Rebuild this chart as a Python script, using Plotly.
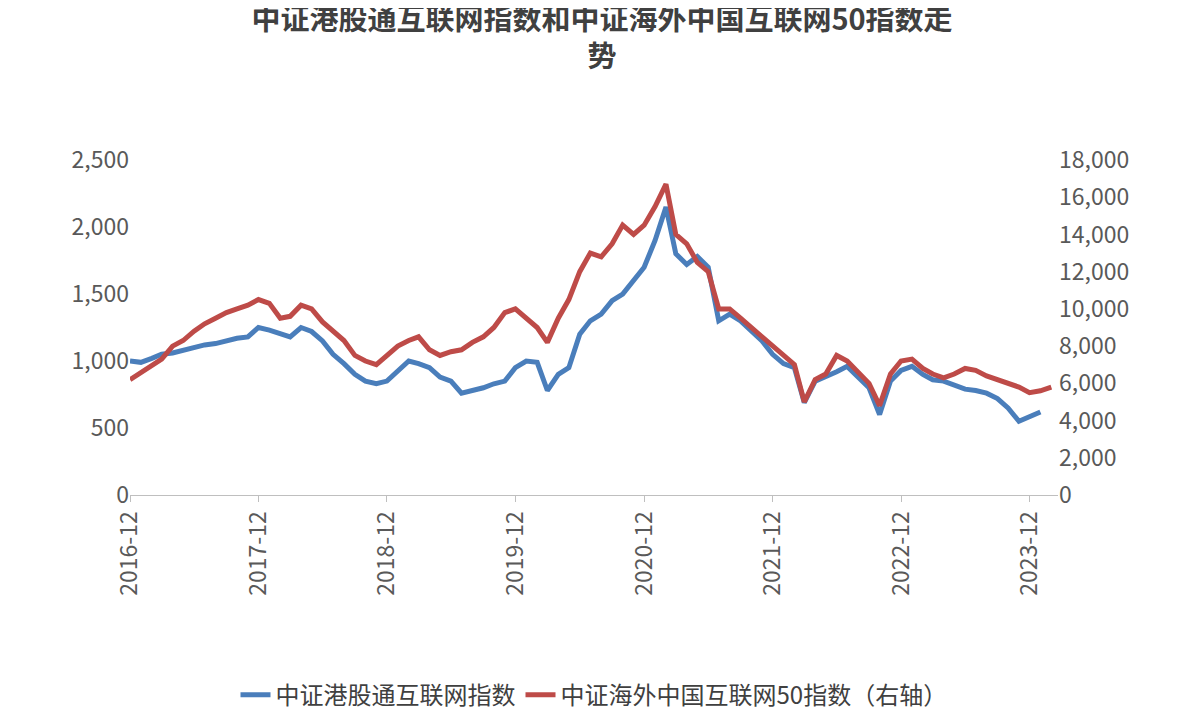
import plotly.graph_objects as go
import pandas as pd

months = pd.date_range("2016-12-01", "2024-02-01", freq="MS")

# 中证港股通互联网指数 (left axis)
blue = [1000, 990, 1020, 1050, 1060, 1080, 1100, 1120, 1130, 1150, 1170, 1180, 1250,
        1230, 1200, 1180, 1250, 1220, 1150, 1050, 980, 900, 850, 830, 850,
        930, 1000, 980, 950, 880, 850, 760, 780, 800, 830, 850, 950,
        1000, 990, 780, 900, 950, 1200, 1300, 1350, 1450, 1500, 1600, 1700,
        1900, 2150, 1800, 1720, 1780, 1700, 1300, 1350, 1300, 1230, 1150, 1050,
        980, 950, 690, 850, 880, 920, 960, 880, 800, 600, 850, 930,
        960, 900, 860, 850, 820, 790, 780, 760, 720, 650, 550, 580, 620]

# 中证海外中国互联网50指数 (right axis)
red = [6200, 6600, 7000, 7300, 8000, 8300, 8800, 9200, 9500, 9800, 10000, 10200, 10500,
       10300, 9500, 9600, 10200, 10000, 9300, 8800, 8300, 7500, 7200, 7000, 7500,
       8000, 8300, 8500, 7800, 7500, 7700, 7800, 8200, 8500, 9000, 9800, 10000,
       9500, 9000, 8200, 9500, 10500, 12000, 13000, 12800, 13500, 14500, 14000, 14500,
       15500, 16700, 14000, 13500, 12500, 12000, 10000, 10000, 9500, 9000, 8500, 8000,
       7500, 7000, 5000, 6200, 6500, 7500, 7200, 6600, 6000, 4800, 6500, 7200,
       7300, 6800, 6500, 6300, 6500, 6800, 6700, 6400, 6200, 6000, 5800, 5500, 5600, 5800]

font = "Noto Sans CJK SC"
grey = "#595959"

fig = go.Figure()
fig.add_trace(go.Scatter(x=months, y=blue, name="中证港股通互联网指数",
                         line=dict(color="#4a7ebb", width=5)))
fig.add_trace(go.Scatter(x=months, y=red, name="中证海外中国互联网50指数（右轴）",
                         yaxis="y2", line=dict(color="#be4b48", width=5)))

fig.update_layout(
    width=1188, height=726,
    paper_bgcolor="white", plot_bgcolor="white",
    font=dict(family=font, color=grey, size=23),
    title=dict(text="<b>中证港股通互联网指数和中证海外中国互联网50指数走<br>势</b>",
               x=0.5, y=0.97, xanchor="center", font=dict(size=29, color="#404040")),
    margin=dict(l=122, r=138, t=152, b=239),
    xaxis=dict(range=["2016-12-01", "2024-02-20"], tickformat="%Y-%m",
               tick0="2016-12-01", dtick="M12", tickangle=-90,
               showgrid=False, showline=True, linecolor="#bfbfbf",
               ticks="outside", tickcolor="#bfbfbf", ticklen=6),
    yaxis=dict(range=[0, 2500], dtick=500, tickformat=",", showgrid=False,
               zeroline=False),
    yaxis2=dict(range=[0, 18000], dtick=2000, tickformat=",", overlaying="y",
                side="right", showgrid=False, zeroline=False),
    legend=dict(orientation="h", x=0.5, xanchor="center", y=-0.53, yanchor="top",
                font=dict(size=24, color="#404040")),
    showlegend=True,
)

fig.write_html("out.html")
